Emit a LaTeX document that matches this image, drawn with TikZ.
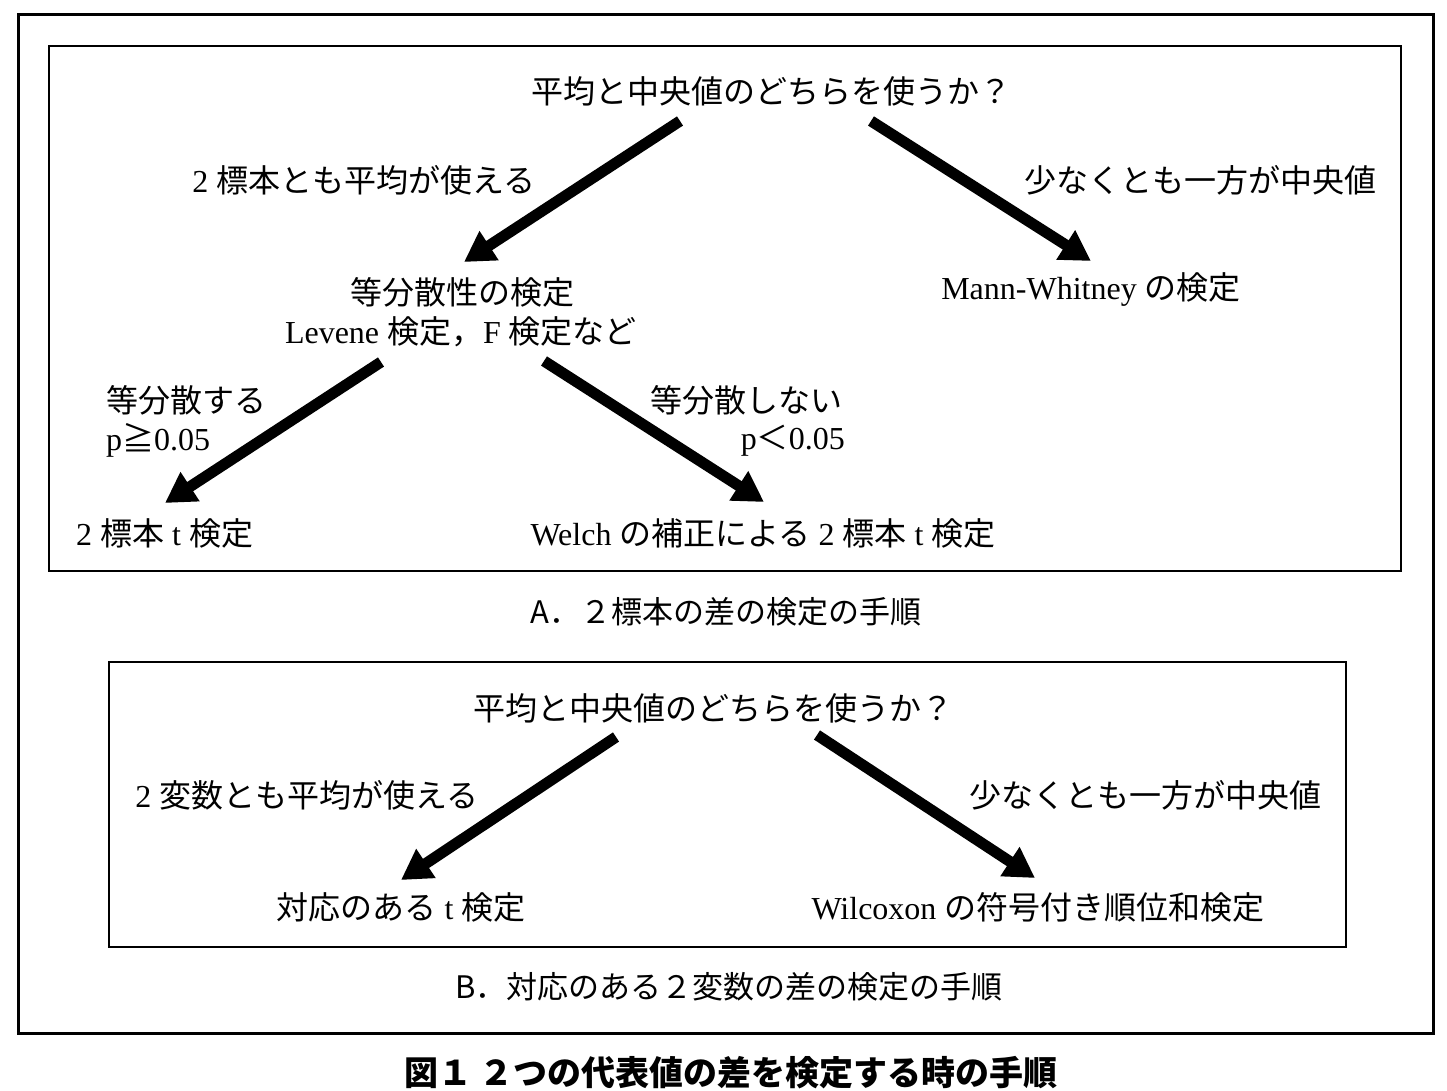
\documentclass[tikz,border=0pt]{standalone}
\usepackage{fontspec}
\setmainfont{Liberation Serif}
\newfontfamily\jp{Noto Sans CJK JP}
\newfontfamily\tms{Liberation Serif}
\usetikzlibrary{arrows.meta,calc}
\tikzset{
  txt/.style={inner sep=0pt, font=\jp\fontsize{32}{38}\selectfont},
  capt/.style={inner sep=0pt, font=\jp\fontsize{31}{36}\selectfont},
  figcap/.style={inner sep=0pt, font=\jp\bfseries\fontsize{34}{40}\selectfont},
  bigarrow/.style={line width=11pt, -{Triangle[length=30pt,width=33pt]}},
  outerframe/.style={draw, line width=3pt},
  panelbox/.style={draw, line width=2pt}
}
\begin{document}
\begin{tikzpicture}[x=1pt,y=-1pt]
\useasboundingbox (0,0) rectangle (1447,1091);
\fill[white] (0,0) rectangle (1447,1091);
% frames
\draw[outerframe] (18,15) rectangle (1433,1033);
\draw[panelbox] (49,46) rectangle (1401,571);
\draw[panelbox] (109,662) rectangle (1346,947);
% panel A
\node[txt] (qA) at (771,91) {平均と中央値のどちらを使うか？};
\node[txt] (lA1) at (364,180) {{\tms 2 }標本とも平均が使える};
\node[txt] (lA2) at (1200,180) {少なくとも一方が中央値};
\node[txt] (eq) at (462,292) {等分散性の検定};
\node[txt] (lev) at (461,332) {{\tms Levene }検定，{\tms F }検定など};
\node[txt] (mw) at (1091,290) {{\tms Mann-Whitney }の検定};
\node[txt, anchor=west] (l3a) at (106,400) {等分散する};
\node[txt, anchor=west] (l3b) at (106,440) {{\tms p}≧{\tms 0.05}};
\node[txt, anchor=east] (l4a) at (843,400) {等分散しない};
\node[txt, anchor=east] (l4b) at (845,441) {{\tms p}＜{\tms 0.05}};
\node[txt, anchor=west] (tt) at (76,533) {{\tms 2 }標本{\tms\ t }検定};
\node[txt] (wel) at (763,533) {{\tms Welch }の補正による{\tms\ 2 }標本{\tms\ t }検定};
\node[capt] (capA) at (726,612) {A．２標本の差の検定の手順};
% panel B
\node[txt] (qB) at (713,708) {平均と中央値のどちらを使うか？};
\node[txt] (lB1) at (307,795) {{\tms 2 }変数とも平均が使える};
\node[txt] (lB2) at (1145,795) {少なくとも一方が中央値};
\node[txt] (pt) at (401,907) {対応のある{\tms\ t }検定};
\node[txt] (wil) at (1038,907) {{\tms Wilcoxon }の符号付き順位和検定};
\node[capt] (capB) at (729,987) {B．対応のある２変数の差の検定の手順};
% figure caption
\node[figcap] (fig) at (731,1073) {図１ ２つの代表値の差を検定する時の手順};
% arrows
\draw[bigarrow] ($(qA)+(-91,30)$) -- ($(eq)+(2,-30)$);
\draw[bigarrow] ($(qA)+(100,30)$) -- ($(mw)+(0,-29)$);
\draw[bigarrow] ($(lev)+(-80,30)$) -- ($(tt.west)+(89,-30)$);
\draw[bigarrow] ($(lev)+(83,29)$) -- ($(wel)+(1,-31)$);
\draw[bigarrow] ($(qB)+(-97,29)$) -- ($(pt)+(0,-27)$);
\draw[bigarrow] ($(qB)+(104,27)$) -- ($(wil)+(-3,-29)$);
\end{tikzpicture}
\end{document}
